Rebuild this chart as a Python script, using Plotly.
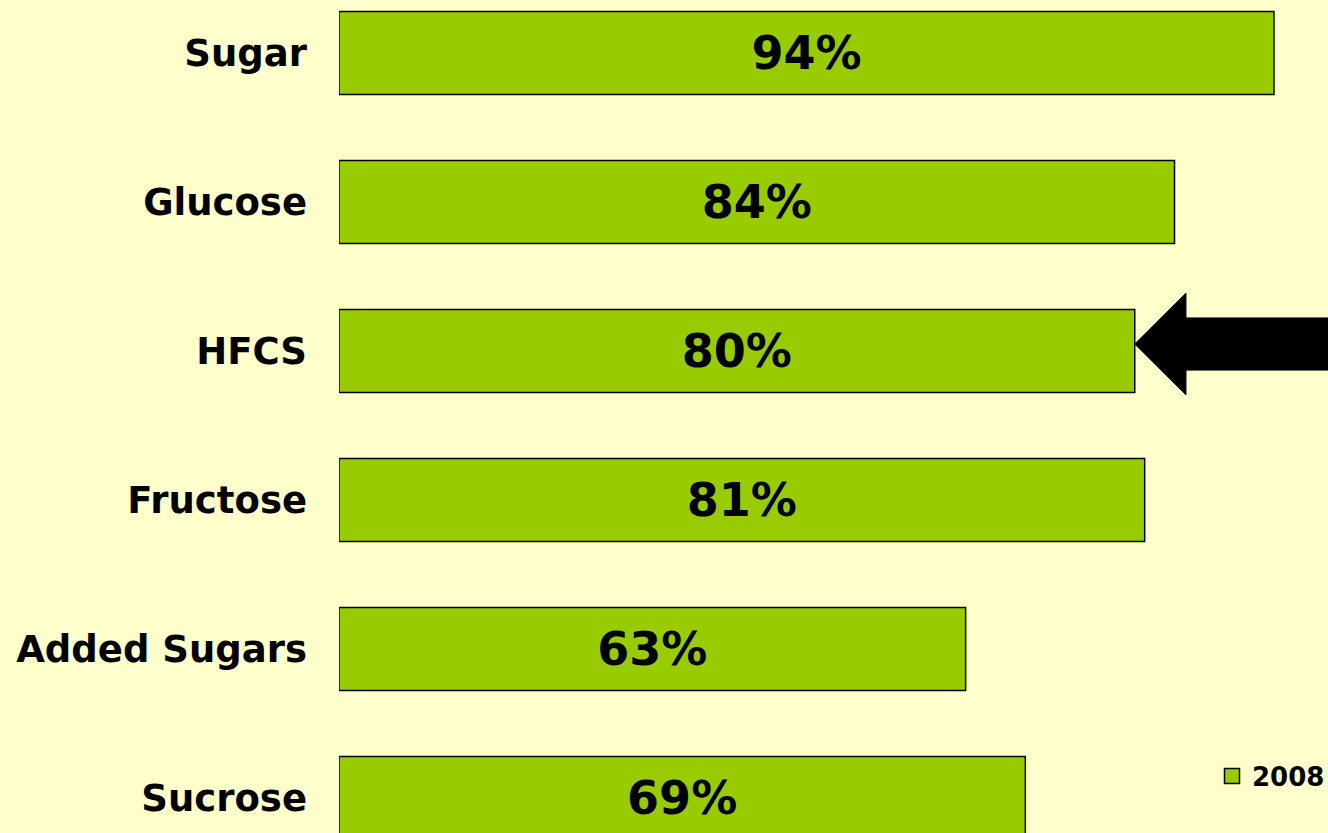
import plotly.graph_objects as go

categories = ["Sugar", "Glucose", "HFCS", "Fructose", "Added Sugars", "Sucrose"]
values_2008 = [94, 84, 80, 81, 63, 69]
value_labels = ["94%", "84%", "80%", "81%", "63%", "69%"]
series_name = "2008"
highlight = "HFCS"

BG = "#FFFFCC"
GREEN = "#99CC00"
FONT = "DejaVu Sans"
W, H = 1328, 833
ML = 339

pos = list(range(len(categories)))

fig = go.Figure()
fig.add_trace(go.Bar(
    x=values_2008,
    y=pos,
    orientation="h",
    name=series_name,
    legendgroup=series_name,
    width=0.557,
    marker=dict(color=GREEN, line=dict(color="#000000", width=1.5)),
    text=value_labels,
    textposition="inside",
    insidetextanchor="middle",
    textfont=dict(family=FONT, size=46, color="#000000", weight="bold"),
    hoverinfo="skip",
    showlegend=False,
))
# legend entry with a larger square swatch for the same series
fig.add_trace(go.Scatter(
    x=[None], y=[None], mode="markers", name=series_name,
    legendgroup=series_name,
    marker=dict(symbol="square", size=15, color=GREEN,
                line=dict(color="#000000", width=1.5)),
    hoverinfo="skip", showlegend=True,
))

# arrow pointing at the highlighted bar end
hi = categories.index(highlight)
tip = values_2008[hi]
yc = hi - 0.047
head_len = 5.15
head_h = 0.342
shaft_h = 0.175
path = (
    f"M {tip},{yc} L {tip + head_len},{yc - head_h} L {tip + head_len},{yc - shaft_h} "
    f"L 110,{yc - shaft_h} L 110,{yc + shaft_h} L {tip + head_len},{yc + shaft_h} "
    f"L {tip + head_len},{yc + head_h} Z"
)
fig.add_shape(type="path", path=path, xref="x", yref="y",
              fillcolor="#000000", line=dict(color="#000000", width=1), layer="above")

fig.update_layout(
    width=W, height=H,
    margin=dict(l=ML, r=0, t=0, b=0, autoexpand=False),
    paper_bgcolor=BG, plot_bgcolor=BG,
    font=dict(family=FONT, color="#000000"),
    xaxis=dict(range=[0, 99.43], visible=False, fixedrange=True),
    yaxis=dict(
        range=[5.235, -0.356],
        tickvals=pos, ticktext=categories,
        showgrid=False, zeroline=False, showline=False, ticks="",
        ticklabelstandoff=31,
        tickfont=dict(family=FONT, size=37, color="#000000", weight="bold"),
        fixedrange=True,
    ),
    legend=dict(
        x=(1212 - ML) / (W - ML), y=1 - 776 / H, xref="paper", yref="paper",
        xanchor="left", yanchor="middle",
        bgcolor="rgba(0,0,0,0)",
        font=dict(family=FONT, size=26, color="#000000", weight="bold"),
    ),
    showlegend=True,
)

fig.write_html("out.html", config={"displayModeBar": False},
               post_script="document.body.style.margin='0';")
